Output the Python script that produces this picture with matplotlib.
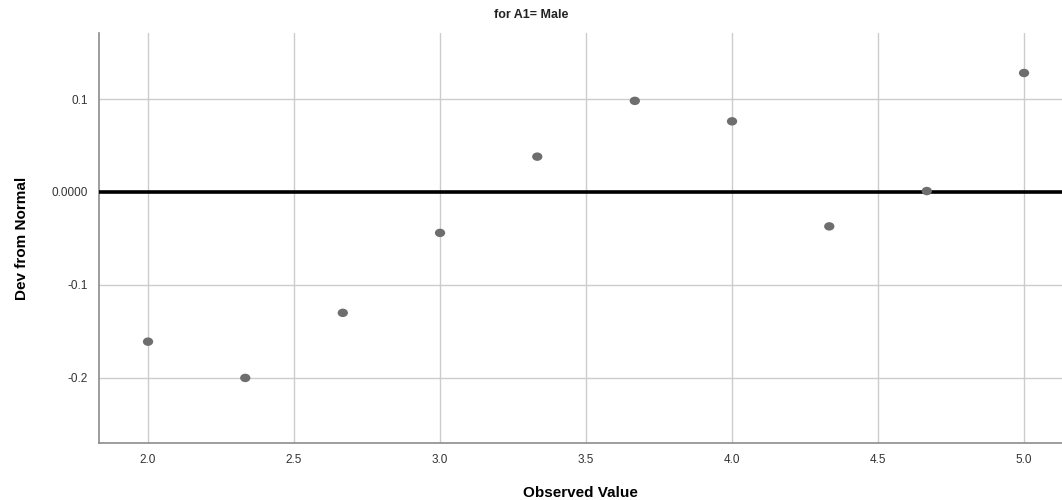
import numpy as np
import matplotlib
matplotlib.use('Agg')
import matplotlib.pyplot as plt
from matplotlib.path import Path

plt.rcParams['font.family'] = ['Liberation Sans', 'DejaVu Sans']

# Detrended normal Q-Q values
observed = [2.0, 2.333, 2.667, 3.0, 3.333, 3.667, 4.0, 4.333, 4.667, 5.0]
dev_from_normal = [-0.161, -0.200, -0.130, -0.044, 0.038, 0.098, 0.076, -0.037, 0.001, 0.128]

x_ticks = [2.0, 2.5, 3.0, 3.5, 4.0, 4.5, 5.0]
y_ticks = [-0.2, -0.1, 0.0, 0.1]
y_tick_labels = ['-0.2', '-0.1', '0.0000', '0.1']

# slightly flattened dot, like the SPSS marker
circ = Path.unit_circle()
ellipse = Path(circ.vertices * np.array([1.0, 0.82]), circ.codes)

fig = plt.figure(figsize=(10.62, 5.0), dpi=100)
ax = fig.add_axes([0.0932, 0.114, 0.9068, 0.82])

ax.axhline(0.0, color='black', lw=2.6, zorder=3)
ax.scatter(observed, dev_from_normal, s=55, color='#6e6e6e', marker=ellipse,
           edgecolors='none', zorder=4)

ax.set_xlim(1.832, 5.13)
ax.set_ylim(-0.270, 0.171)
ax.set_xticks(x_ticks)
ax.set_xticklabels([f'{v:.1f}' for v in x_ticks])
ax.set_yticks(y_ticks)
ax.set_yticklabels(y_tick_labels)

ax.grid(True, color='#cccccc', lw=1.0, zorder=1)
ax.set_axisbelow(True)
for side in ['top', 'right']:
    ax.spines[side].set_visible(False)
for side in ['left', 'bottom']:
    ax.spines[side].set_color('#8c8c8c')
    ax.spines[side].set_linewidth(1.2)
ax.tick_params(length=0, labelsize=8.5, colors='#333333', pad=8)

ax.set_xlabel('Observed Value', fontsize=11, fontweight='bold', labelpad=14)
ax.set_ylabel('Dev from Normal', fontsize=11, fontweight='bold', labelpad=16)
fig.text(0.5, 0.97, 'for A1= Male', ha='center', va='center',
         fontsize=9, fontweight='bold', color='#222222')

fig.savefig('out.png', dpi=100)
